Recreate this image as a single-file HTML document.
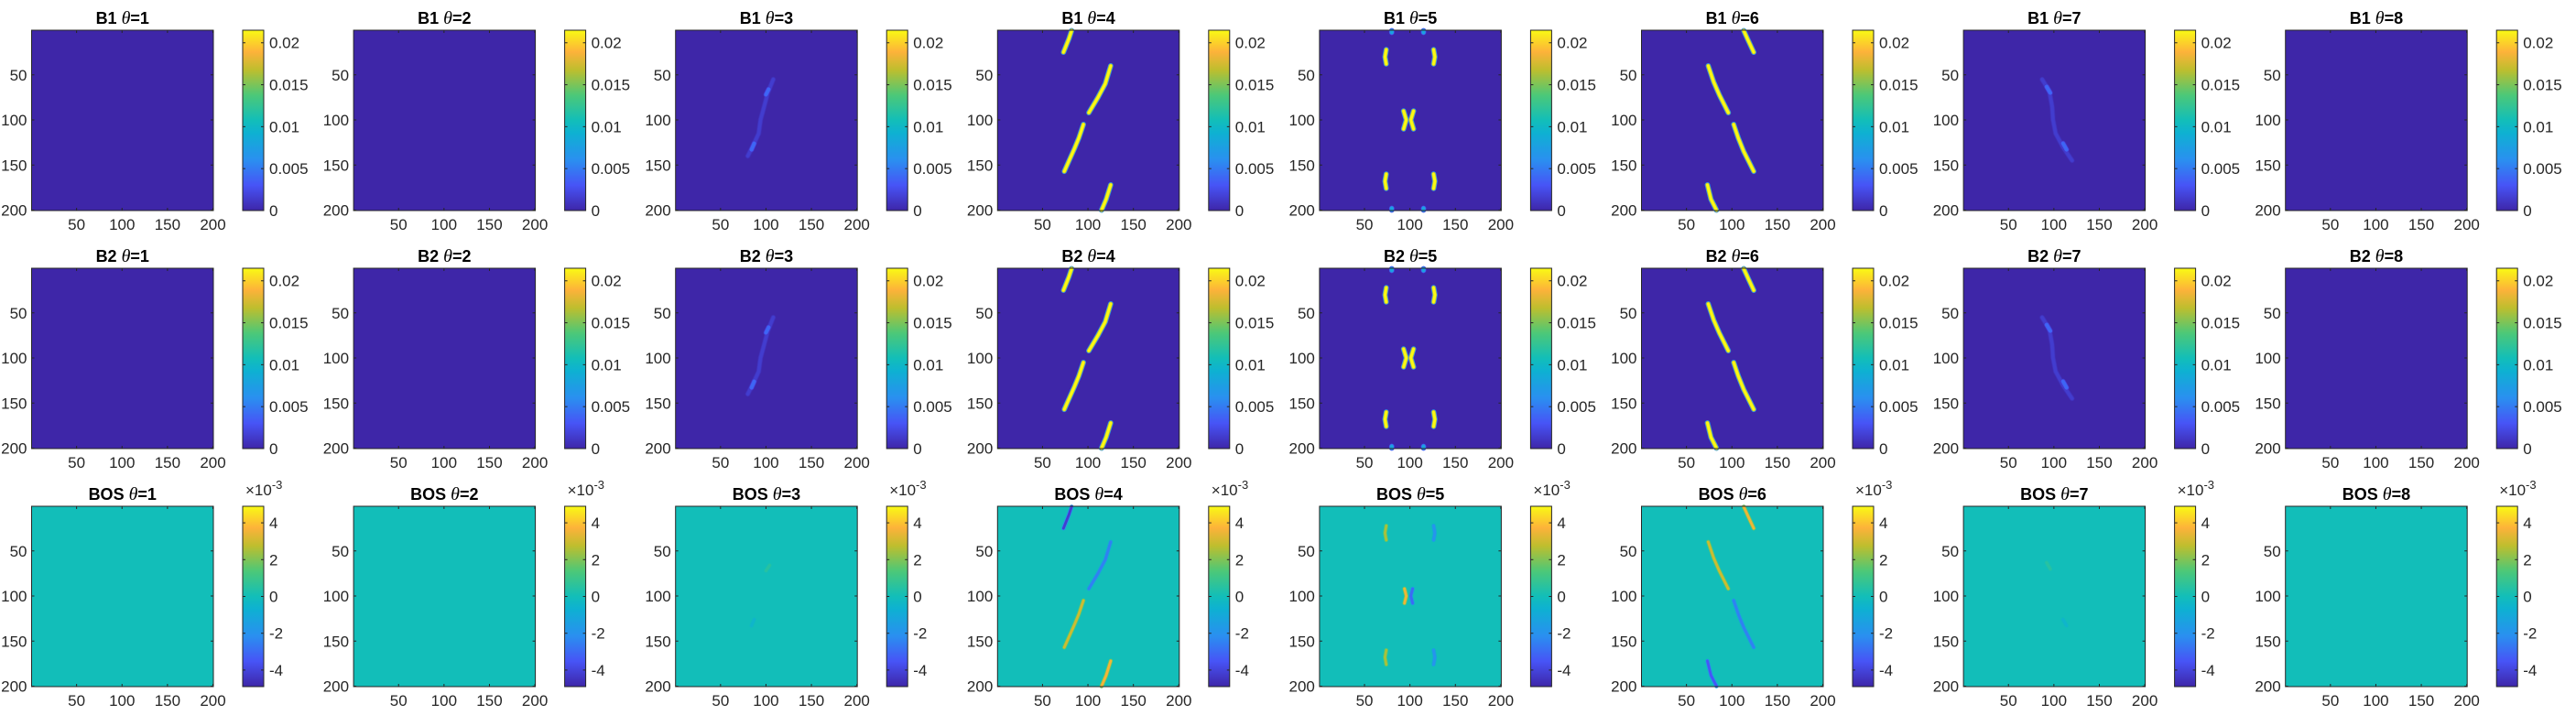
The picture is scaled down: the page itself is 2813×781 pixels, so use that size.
<!DOCTYPE html>
<html><head><meta charset="utf-8">
<style>
html,body{margin:0;padding:0;background:#fff;}
svg{display:block;font-family:"Liberation Sans",sans-serif;}
</style></head>
<body>
<svg id="fig" width="2813" height="781" viewBox="0 0 2813 781" xmlns="http://www.w3.org/2000/svg">
<defs>
<linearGradient id="parula" x1="0" y1="1" x2="0" y2="0">
<stop offset="0" stop-color="rgb(62,38,168)"/>
<stop offset="0.14" stop-color="rgb(71,84,246)"/>
<stop offset="0.28" stop-color="rgb(42,143,240)"/>
<stop offset="0.43" stop-color="rgb(14,177,210)"/>
<stop offset="0.5" stop-color="rgb(18,190,185)"/>
<stop offset="0.64" stop-color="rgb(76,200,120)"/>
<stop offset="0.78" stop-color="rgb(190,190,46)"/>
<stop offset="0.88" stop-color="rgb(253,178,58)"/>
<stop offset="1" stop-color="rgb(249,250,20)"/>
</linearGradient>
</defs>
</svg>
<script>
const thetas=[1,2,3,4,5,6,7,8];
const rowNames=['B1','B2','BOS'];
const bTicks=[0,0.005,0.01,0.015,0.02];
const bTickLabels=['0','0.005','0.01','0.015','0.02'];
const bMax=0.0215;
const bosTicks=[-4,-2,0,2,4];
const bosMax=4.9;
const axisTicks=[50,100,150,200];
// B1/B2 stripes: theta, peak value, path points [col,row]
const bStripes=[
 {theta:4,v:0.0215,pts:[[82,1],[79,10],[73,25]]},
 {theta:4,v:0.0215,pts:[[125,40],[119,60],[111,75],[101,92]]},
 {theta:4,v:0.0215,pts:[[95,105],[90,120],[85,132],[74,157]]},
 {theta:4,v:0.0215,pts:[[125,172],[120,188],[115,200]]},
 {theta:6,v:0.0215,pts:[[113,1],[118,12],[124,25]]},
 {theta:6,v:0.0215,pts:[[74,40],[80,58],[86,72],[96,92]]},
 {theta:6,v:0.0215,pts:[[102,105],[107,120],[113,135],[124,157]]},
 {theta:6,v:0.0215,pts:[[73,172],[77,188],[83,200]]},
 {theta:5,v:0.0215,pts:[[74,22],[72.5,30],[74,38]]},
 {theta:5,v:0.0215,pts:[[126,22],[127.5,30],[126,38]]},
 {theta:5,v:0.0215,pts:[[74,160],[72.5,168],[74,176]]},
 {theta:5,v:0.0215,pts:[[126,160],[127.5,168],[126,176]]},
 {theta:5,v:0.0215,pts:[[93,90],[96,100],[93,110]]},
 {theta:5,v:0.0215,pts:[[104,90],[101,100],[104,110]]},
 {theta:5,v:0.008,pts:[[80,1],[80,3]]},
 {theta:5,v:0.008,pts:[[115,1],[115,3]]},
 {theta:5,v:0.008,pts:[[80,198],[80,200]]},
 {theta:5,v:0.008,pts:[[115,198],[115,200]]},
 {theta:3,v:0.0015,pts:[[108,55],[102,70],[98,85],[94,100],[92,115],[86,128],[80,140]]},
 {theta:3,v:0.004,pts:[[103,66],[100,72]]},
 {theta:3,v:0.004,pts:[[87,126],[84,133]]},
 {theta:7,v:0.0015,pts:[[87,55],[95,68],[98,85],[99,100],[102,115],[110,130],[120,145]]},
 {theta:7,v:0.004,pts:[[92,63],[96,70]]},
 {theta:7,v:0.004,pts:[[110,126],[114,133]]}
];
// BOS stripes: values in 1e-3 units
const bosStripes=[
 {theta:4,v:-4.2,pts:[[82,1],[79,10],[73,25]]},
 {theta:4,v:-2.5,pts:[[125,40],[119,60],[111,75],[101,92]]},
 {theta:4,v:3.0,pts:[[95,105],[90,120],[85,132],[74,157]]},
 {theta:4,v:3.6,pts:[[125,172],[120,188],[115,200]]},
 {theta:6,v:3.5,pts:[[113,1],[118,12],[124,25]]},
 {theta:6,v:3.0,pts:[[74,40],[80,58],[86,72],[96,92]]},
 {theta:6,v:-2.5,pts:[[102,105],[107,120],[113,135],[124,157]]},
 {theta:6,v:-3.5,pts:[[73,172],[77,188],[83,200]]},
 {theta:5,v:2.5,pts:[[74,22],[72.5,30],[74,38]]},
 {theta:5,v:-2.0,pts:[[126,22],[127.5,30],[126,38]]},
 {theta:5,v:2.5,pts:[[74,160],[72.5,168],[74,176]]},
 {theta:5,v:-2.0,pts:[[126,160],[127.5,168],[126,176]]},
 {theta:5,v:3.5,pts:[[94,92],[96,100],[94,108]]},
 {theta:5,v:-3.0,pts:[[103,92],[101,100],[103,108]]},
 {theta:3,v:0.5,pts:[[104,66],[100,72]]},
 {theta:3,v:-0.5,pts:[[87,126],[84,133]]},
 {theta:7,v:0.5,pts:[[92,63],[96,70]]},
 {theta:7,v:-0.5,pts:[[110,126],[114,133]]}
];
const stops=[[0,62,38,168],[0.14,71,84,246],[0.28,42,143,240],[0.43,14,177,210],[0.5,18,190,185],[0.64,76,200,120],[0.78,190,190,46],[0.88,253,178,58],[1,249,250,20]];
function parula(t){t=Math.max(0,Math.min(1,t));for(let i=1;i<stops.length;i++){if(t<=stops[i][0]){const a=stops[i-1],b=stops[i],f=(t-a[0])/(b[0]-a[0]);return 'rgb('+[1,2,3].map(k=>Math.round(a[k]+(b[k]-a[k])*f)).join(',')+')';}}return 'rgb(249,250,20)';}
const NS='http://www.w3.org/2000/svg';
const svg=document.getElementById('fig');
function mk(tag,attrs,parent){const e=document.createElementNS(NS,tag);for(const k in attrs)e.setAttribute(k,attrs[k]);(parent||svg).appendChild(e);return e;}
const AW=198.5,AH=197,COLW=351.6,ROWH=260;
for(let r=0;r<3;r++){
 for(let c=0;c<8;c++){
  const ax0=34.5+c*COLW, ay0=33+r*ROWH;
  const sx=d=>ax0+(d-0.5)*AW/200, sy=d=>ay0+(d-0.5)*AH/200;
  const isBos=r===2;
  const tn=thetas[c];
  const g=mk('g',{});
  
  
  const t=mk('text',{x:ax0+AW/2,y:ay0-7,'text-anchor':'middle','font-size':18,'font-weight':'bold',fill:'#000'},g);
  
  
  t.appendChild(document.createTextNode(rowNames[r]+' '));
  const th=mk('tspan',{'font-family':'Liberation Serif, serif','font-style':'italic','font-weight':'normal','font-size':20},t);th.textContent='θ';
  const rest=mk('tspan',{},t);rest.textContent='='+tn;
  const bg=mk('rect',{x:ax0,y:ay0,width:AW,height:AH,fill:isBos?parula(0.5):parula(0)},g);
  
  
  const list=isBos?bosStripes:bStripes;
  list.filter(s=>s.theta===tn).forEach(s=>{
   const p=s.pts.map(q=>sx(q[0]).toFixed(1)+','+sy(q[1]).toFixed(1)).join(' ');
   const layers=isBos?[[4.5,0.5],[2.8,1]]:[[5.8,0.3],[4.4,0.8],[3.0,1]];
   layers.forEach(L=>{
    const tv=isBos?0.5+(s.v*L[1])/(2*bosMax):(s.v*L[1])/bMax;
    const pl=mk('polyline',{points:p,fill:'none',stroke:parula(tv),'stroke-width':L[0],'stroke-linecap':'round','stroke-linejoin':'round'},g);
    
    
   });
  });
  const fr=mk('rect',{x:ax0,y:ay0,width:AW,height:AH,fill:'none',stroke:'#262626','stroke-width':1},g);
  
  
  axisTicks.forEach(v=>{
   mk('line',{x1:ax0,x2:ax0+3,y1:sy(v),y2:sy(v),stroke:'#262626'},g);
   mk('line',{x1:ax0+AW,x2:ax0+AW-3,y1:sy(v),y2:sy(v),stroke:'#262626'},g);
   mk('line',{x1:sx(v),x2:sx(v),y1:ay0+AH,y2:ay0+AH-3,stroke:'#262626'},g);
   mk('line',{x1:sx(v),x2:sx(v),y1:ay0,y2:ay0+3,stroke:'#262626'},g);
   const yl=mk('text',{x:ax0-5,y:sy(v)+6,'text-anchor':'end','font-size':17,fill:'#262626'},g);
   
   
   yl.textContent=v;
   const xl=mk('text',{x:sx(v),y:ay0+AH+21,'text-anchor':'middle','font-size':17,fill:'#262626'},g);
   
   
   xl.textContent=v;
  });
  const cbx=265+c*COLW, cbw=23;
  const cb=mk('rect',{x:cbx,y:ay0,width:cbw,height:AH,fill:'url(#parula)',stroke:'#262626','stroke-width':1},g);
  
  
  const ticks=isBos?bosTicks:bTicks;
  ticks.forEach((v,i)=>{
   const yy=isBos?ay0+AH/2-v/bosMax*AH/2:ay0+AH-v/bMax*AH;
   mk('line',{x1:cbx,x2:cbx+3,y1:yy,y2:yy,stroke:'#262626'},g);
   mk('line',{x1:cbx+cbw,x2:cbx+cbw-3,y1:yy,y2:yy,stroke:'#262626'},g);
   const cl=mk('text',{x:cbx+cbw+6,y:yy+6,'font-size':17,fill:'#262626'},g);
   
   
   cl.textContent=isBos?String(v):bTickLabels[i];
  });
  if(isBos){
   const ex=mk('text',{x:cbx+3,y:ay0-12,'font-size':17,fill:'#262626'},g);
   
   
   ex.appendChild(document.createTextNode('×10'));
   const sp=mk('tspan',{dy:-7,'font-size':13},ex);sp.textContent='-3';
  }
 }
}
</script>
</body></html>
